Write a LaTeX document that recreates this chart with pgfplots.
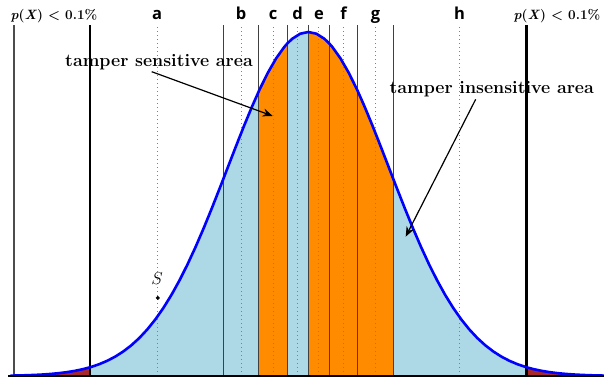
\documentclass[border=0pt]{standalone}
\usepackage{pgfplots}
\usepackage{pgfplotstable}
\pgfplotsset{compat=1.18}
\usetikzlibrary{arrows.meta}
\usepackage{fontspec}
\newfontfamily\labfont{Open Sans}
\definecolor{lblue}{RGB}{173,216,230}
\definecolor{dorange}{RGB}{255,140,0}
\definecolor{tailred}{RGB}{168,40,40}
\tikzset{dotl/.style={gray, line width=0.9pt, dash pattern=on 1pt off 3pt},
         soll/.style={black!75, line width=1pt}}
\newcommand\pxlab{{\bfseries\itshape p\/\upshape(\itshape X\/\upshape)~<~0.1\%}}
\pgfplotstableread{
u g
-3.7 0.00106
-3.6 0.00153
-3.5 0.00219
-3.4 0.00309
-3.3 0.00432
-3.2 0.00598
-3.1 0.00819
-3.0 0.01111
-2.9 0.01492
-2.8 0.01984
-2.71 0.02543
-2.7 0.02613
-2.6 0.03405
-2.5 0.04394
-2.4 0.05613
-2.3 0.07101
-2.2 0.08892
-2.1 0.11025
-2.0 0.13534
-1.9 0.16447
-1.8 0.19790
-1.7 0.23575
-1.6 0.27804
-1.5 0.32465
-1.4 0.37531
-1.3 0.42956
-1.2 0.48675
-1.1 0.54607
-1.056 0.57259
-1.0 0.60653
-0.9 0.66698
-0.8 0.72615
-0.7 0.78271
-0.613 0.82871
-0.6 0.83527
-0.5 0.88250
-0.4 0.92312
-0.3 0.95600
-0.261 0.96651
-0.2 0.98020
-0.1 0.99501
0.0 1.00000
0.1 0.99501
0.2 0.98020
0.261 0.96651
0.3 0.95600
0.4 0.92312
0.5 0.88250
0.6 0.83527
0.613 0.82871
0.7 0.78271
0.8 0.72615
0.9 0.66698
1.0 0.60653
1.056 0.57259
1.1 0.54607
1.2 0.48675
1.3 0.42956
1.4 0.37531
1.5 0.32465
1.6 0.27804
1.7 0.23575
1.8 0.19790
1.9 0.16447
2.0 0.13534
2.1 0.11025
2.2 0.08892
2.3 0.07101
2.4 0.05613
2.5 0.04394
2.6 0.03405
2.7 0.02613
2.71 0.02543
2.8 0.01984
2.9 0.01492
3.0 0.01111
3.1 0.00819
3.2 0.00598
3.3 0.00432
3.4 0.00309
3.5 0.00219
3.6 0.00153
3.7 0.00106
}\curvetable
\begin{document}
\begin{tikzpicture}
\begin{axis}[width=604pt, height=379pt, scale only axis,
  xmin=-3.82981, xmax=3.67329, ymin=-0.008721, ymax=1.093023,
  hide axis, clip=false]
% fills
\addplot[fill=tailred, draw=none, restrict x to domain=-3.71:-2.7099] table[x=u,y=g] {\curvetable} \closedcycle;
\addplot[fill=lblue, draw=none, restrict x to domain=-2.7101:-0.6129] table[x=u,y=g] {\curvetable} \closedcycle;
\addplot[fill=dorange, draw=none, restrict x to domain=-0.6131:-0.2609] table[x=u,y=g] {\curvetable} \closedcycle;
\addplot[fill=lblue, draw=none, restrict x to domain=-0.2611:0.0001] table[x=u,y=g] {\curvetable} \closedcycle;
\addplot[fill=dorange, draw=none, restrict x to domain=-0.0001:1.0561] table[x=u,y=g] {\curvetable} \closedcycle;
\addplot[fill=lblue, draw=none, restrict x to domain=1.0559:2.7101] table[x=u,y=g] {\curvetable} \closedcycle;
\addplot[fill=tailred, draw=none, restrict x to domain=2.7099:3.71] table[x=u,y=g] {\curvetable} \closedcycle;
% dotted lines
\addplot[dotl] coordinates {(-1.88,0) (-1.88,1.0203)};
\addplot[dotl] coordinates {(-0.835,0) (-0.835,1.0203)};
\addplot[dotl] coordinates {(-0.436,0) (-0.436,1.0203)};
\addplot[dotl] coordinates {(-0.132,0) (-0.132,1.0203)};
\addplot[dotl] coordinates {(0.132,0) (0.132,1.0203)};
\addplot[dotl] coordinates {(0.436,0) (0.436,1.0203)};
\addplot[dotl] coordinates {(0.835,0) (0.835,1.0203)};
\addplot[dotl] coordinates {(1.88,0) (1.88,1.0203)};
% solid thin lines
\addplot[soll] coordinates {(-1.056,0) (-1.056,1.0203)};
\addplot[soll] coordinates {(-0.613,0) (-0.613,1.0203)};
\addplot[soll] coordinates {(-0.261,0) (-0.261,1.0203)};
\addplot[soll] coordinates {(0,0) (0,1.0203)};
\addplot[soll] coordinates {(0.261,0) (0.261,1.0203)};
\addplot[soll] coordinates {(0.613,0) (0.613,1.0203)};
\addplot[soll] coordinates {(1.056,0) (1.056,1.0203)};
\addplot[black!70, line width=1.3pt] coordinates {(-3.656,0) (-3.656,1.0203)};
% thick lines
\addplot[black, line width=2.2pt] coordinates {(-2.71,0) (-2.71,1.0203)};
\addplot[black, line width=2.2pt] coordinates {(2.71,0) (2.71,1.0203)};
% curve
\addplot[blue, line width=2.6pt] table[x=u,y=g] {\curvetable};
% baseline
\addplot[black, line width=2.5pt] coordinates {(-3.73,0) (3.68,0)};
% S point
\addplot[only marks, mark=*, mark size=1.8pt, black] coordinates {(-1.87,0.227)};
\end{axis}
% text, positioned in pixel offsets from the top-left corner of the axis box
\node at ([shift={(157pt,-279pt)}]current axis.north west) {\fontsize{16}{18}\selectfont $S$};
\node[anchor=base] at ([shift={(157pt,-20pt)}]current axis.north west) {\labfont\bfseries\fontsize{16.5}{18}\selectfont a};
\node[anchor=base] at ([shift={(241pt,-20pt)}]current axis.north west) {\labfont\bfseries\fontsize{16.5}{18}\selectfont b};
\node[anchor=base] at ([shift={(273pt,-20pt)}]current axis.north west) {\labfont\bfseries\fontsize{16.5}{18}\selectfont c};
\node[anchor=base] at ([shift={(297.7pt,-20pt)}]current axis.north west) {\labfont\bfseries\fontsize{16.5}{18}\selectfont d};
\node[anchor=base] at ([shift={(319pt,-20pt)}]current axis.north west) {\labfont\bfseries\fontsize{16.5}{18}\selectfont e};
\node[anchor=base] at ([shift={(343.5pt,-20pt)}]current axis.north west) {\labfont\bfseries\fontsize{16.5}{18}\selectfont f};
\node[anchor=base] at ([shift={(375.5pt,-20pt)}]current axis.north west) {\labfont\bfseries\fontsize{16.5}{18}\selectfont g};
\node[anchor=base] at ([shift={(459.6pt,-20pt)}]current axis.north west) {\labfont\bfseries\fontsize{16.5}{18}\selectfont h};
\node[anchor=base] at ([shift={(54pt,-20pt)}]current axis.north west) {\fontsize{13.5}{15}\selectfont\pxlab};
\node[anchor=base] at ([shift={(557pt,-20pt)}]current axis.north west) {\fontsize{13.5}{15}\selectfont\pxlab};
\node[anchor=base] at ([shift={(159pt,-66.7pt)}]current axis.north west) {\fontsize{17.8}{20}\selectfont\bfseries tamper sensitive area};
\node[anchor=base] at ([shift={(491.7pt,-94pt)}]current axis.north west) {\fontsize{17.8}{20}\selectfont\bfseries tamper insensitive area};
\draw[black, line width=1.2pt, -{Stealth[length=10pt, width=8pt]}] ([shift={(151.7pt,-71.7pt)}]current axis.north west) -- ([shift={(272.7pt,-116pt)}]current axis.north west);
\draw[black, line width=1.2pt, -{Stealth[length=10pt, width=8pt]}] ([shift={(475.7pt,-99.3pt)}]current axis.north west) -- ([shift={(405.7pt,-236.7pt)}]current axis.north west);
\pgfresetboundingbox
\useasboundingbox (current axis.south west) rectangle (current axis.north east);
\end{tikzpicture}
\end{document}
